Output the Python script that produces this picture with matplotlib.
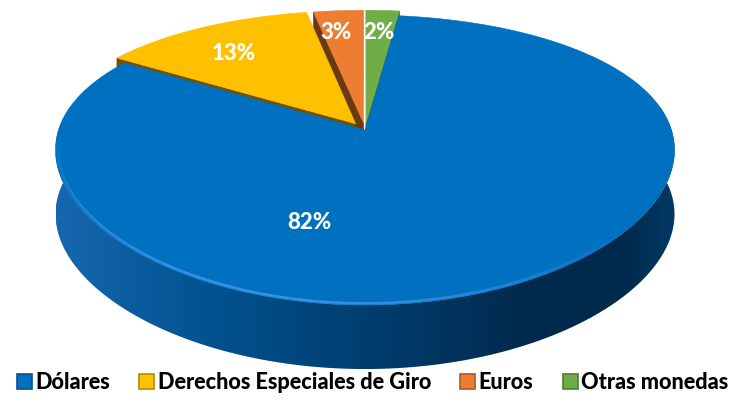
import numpy as np
import matplotlib
matplotlib.use("Agg")
import matplotlib.pyplot as plt
from matplotlib.collections import LineCollection
from matplotlib.patches import Polygon, Rectangle
from matplotlib.colors import LinearSegmentedColormap
from matplotlib import font_manager

# ---- data ----
categories = ["Dólares", "Derechos Especiales de Giro", "Euros", "Otras monedas"]
values = [82, 13, 3, 2]

# ---- style ----
colors_top = ["#0070C0", "#FFC000", "#ED7D31", "#70AD47"]
colors_side = ["#00457F", "#6E5200", "#6B3A15", "#3D6127"]
legend_edge = ["#0A4F8F", "#B58A00", "#B0571E", "#4F7F33"]
explode = [0.0, 0.055, 0.05, 0.05]
start_angle = 7.2          # degrees, clockwise from 12 o'clock
label_shift = [41.0, -3.0, -2.0, 0.0]
label_r = [0.61, 0.72, 0.78, 0.77]

weights = {str(f.weight) for f in font_manager.fontManager.ttflist if f.name == "Lato"}
heavy = "black" if weights & {"900", "black", "heavy"} else "bold"

W, H = 745, 404
fig = plt.figure(figsize=(W / 100, H / 100), dpi=100)
ax = fig.add_axes([0, 0, 1, 1])
ax.axis("off")

# projection of the unit disc (u right, v away from viewer) with mild perspective
cx, cy = 365.0, 130.0
K, kp = 138.8, 0.207
kx = 0.14
A = 309.5 * np.sqrt(1 - kx ** 2)
depth = 64.0


def proj(u, v, dz=0.0):
    sy = 1.0 / (1.0 + kp * v)
    sx = 1.0 / (1.0 + kx * v)
    return cx + A * u * sx, cy - K * v * sy + dz


side_cmap = LinearSegmentedColormap.from_list(
    "side",
    [(0.0, "#1767AF"), (0.25, "#00528F"), (0.5, "#003E70"),
     (0.75, "#002B4E"), (0.92, "#002A4C"), (1.0, "#003A66")])

fractions = np.array(values, dtype=float) / np.sum(values)
edges = start_angle + np.concatenate([[0.0], np.cumsum(fractions) * 360.0])

draw_order = [3, 2, 1, 0]
for i in draw_order:
    a0, a1 = edges[i], edges[i + 1]
    mid = np.radians((a0 + a1) / 2)
    ou, ov = explode[i] * np.sin(mid), explode[i] * np.cos(mid)

    # radial side faces (only those facing the viewer)
    for ang, is_start in ((a0, True), (a1, False)):
        r = np.radians(ang)
        vis = np.sin(r) < -1e-6 if is_start else np.sin(r) > 1e-6
        if not vis:
            continue
        p0 = proj(ou, ov)
        p1 = proj(ou + np.sin(r), ov + np.cos(r))
        p2 = proj(ou + np.sin(r), ov + np.cos(r), depth)
        p3 = proj(ou, ov, depth)
        ax.add_patch(Polygon([p0, p1, p2, p3], closed=True,
                             facecolor=colors_side[i], edgecolor=colors_side[i],
                             linewidth=0.5, zorder=2))

    # outer cylindrical side (front part only), shaded with a horizontal gradient
    lo, hi = max(a0, 80.0), min(a1, 280.0)
    if hi > lo:
        th = np.radians(np.linspace(lo, hi, 300))
        top = [proj(ou + np.sin(t), ov + np.cos(t)) for t in th]
        bot = [proj(ou + np.sin(t), ov + np.cos(t), depth) for t in th[::-1]]
        side = Polygon(top + bot, closed=True, facecolor="none", edgecolor="none",
                       zorder=2)
        ax.add_patch(side)
        grad = np.linspace(0, 1, 512)[None, :]
        im = ax.imshow(grad, extent=(56, 676, 390, 90), cmap=side_cmap,
                       aspect="auto", zorder=2, interpolation="bilinear")
        im.set_clip_path(side)

    # top face
    n = max(int((a1 - a0) * 2), 6)
    th = np.radians(np.linspace(a0, a1, n))
    pts = [proj(ou, ov)] + [proj(ou + np.sin(t), ov + np.cos(t)) for t in th]
    ax.add_patch(Polygon(pts, closed=True, facecolor=colors_top[i],
                         edgecolor=colors_top[i], linewidth=0.4, zorder=3))

    # rim highlight on the big slice
    if i == 0:
        th = np.radians(np.linspace(130, 268, 200))
        pts = np.array([proj(ou + 0.992 * np.sin(t), ov + 0.992 * np.cos(t)) for t in th])
        segs = np.stack([pts[:-1], pts[1:]], axis=1)
        al = np.sin(np.linspace(0, np.pi, len(segs))) * 0.75
        lc = LineCollection(segs, colors=[(0.30, 0.62, 0.95, a) for a in al],
                            linewidths=1.8, zorder=4)
        ax.add_collection(lc)

    # percentage label
    la = np.radians((a0 + a1) / 2 + label_shift[i])
    lx, ly = proj(ou + label_r[i] * np.sin(la), ov + label_r[i] * np.cos(la))
    ax.text(lx, ly, f"{values[i]}%", color="white", fontsize=16,
            fontweight=heavy, family="Lato", ha="center", va="center", zorder=5)

ax.set_xlim(0, W)
ax.set_ylim(H, 0)

handles = [Rectangle((0, 0), 1, 1, facecolor=c, edgecolor=e, linewidth=1.2)
           for c, e in zip(colors_top, legend_edge)]
fig.legend(handles, categories, loc="lower center", bbox_to_anchor=(0.5, -0.01),
           ncol=4, frameon=False,
           prop=dict(family="Lato", weight=heavy, size=15.6),
           handlelength=0.7, handleheight=0.7, handletextpad=0.15,
           columnspacing=1.35, borderpad=0.2)

fig.savefig("out.png", dpi=100, facecolor="white")
